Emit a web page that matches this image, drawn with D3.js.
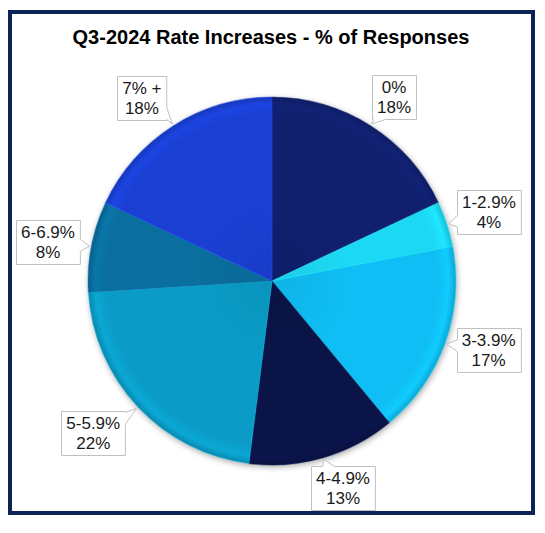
<!DOCTYPE html>
<html>
<head>
<meta charset="utf-8">
<script src="https://cdn.jsdelivr.net/npm/d3@7"></script>
<style>
  body { margin: 0; background: #fff; }
  text { font-family: "Liberation Sans", Arial, sans-serif; }
</style>
</head>
<body>
<div id="chart"></div>
<script>
// chart data
var categories = ["0%", "1-2.9%", "3-3.9%", "4-4.9%", "5-5.9%", "6-6.9%", "7% +"];
var shares = [18, 4, 17, 13, 22, 8, 18];
var sliceColors = ["#10206e", "#1cd8f4", "#0fbef4", "#0a1447", "#0a9cc6", "#0a6e9e", "#1a3fd2"];
var chartTitle = "Q3-2024 Rate Increases - % of Responses";

// small nudges of the callout boxes off the radial placement
var labelNudge = [[1, 7], [2, 1], [4, -8], [8, -10], [-14, -3], [-2, 3], [-9, 8]];

var svgWidth = 545;
var svgHeight = 533;
var cx = 272, cy = 281, radius = 184;
var labelRadius = 226;

var svg = d3.select("#chart")
  .append("svg")
  .attr("width", svgWidth)
  .attr("height", svgHeight);

var defs = svg.append("defs");

// soft shadow behind the pie (drawn as a separate blurred disc)
var shadow = defs.append("filter")
  .attr("id", "pieShadow")
  .attr("x", "-20%").attr("y", "-20%")
  .attr("width", "140%").attr("height", "140%");
shadow.append("feGaussianBlur").attr("stdDeviation", 3);

// one radial gradient per slice (rim highlight + darker edge); centred on the pie group origin
sliceColors.forEach(function(c, i) {
  var base = d3.color(c);
  var g = defs.append("radialGradient")
    .attr("id", "grad" + i)
    .attr("gradientUnits", "userSpaceOnUse")
    .attr("cx", 0).attr("cy", 0).attr("r", radius);
  g.append("stop").attr("offset", "0%").attr("stop-color", base.darker(0.15));
  g.append("stop").attr("offset", "40%").attr("stop-color", base);
  g.append("stop").attr("offset", "90%").attr("stop-color", base);
  g.append("stop").attr("offset", "96%").attr("stop-color", base.brighter(0.2));
  g.append("stop").attr("offset", "100%").attr("stop-color", base.darker(0.4));
});

// frame
svg.append("rect")
  .attr("x", 10).attr("y", 12)
  .attr("width", 523).attr("height", 501)
  .attr("fill", "#fff")
  .attr("stroke", "#0c2455")
  .attr("stroke-width", 4);

// title
svg.append("text")
  .attr("x", 271)
  .attr("y", 43.5)
  .attr("text-anchor", "middle")
  .attr("font-size", "20px")
  .attr("font-weight", "bold")
  .attr("fill", "#000")
  .text(chartTitle);

var pie = d3.pie().sort(null).value(function(d) { return d; });
var arcs = pie(shares);
var arc = d3.arc().innerRadius(0).outerRadius(radius);

var pieGroup = svg.append("g")
  .attr("transform", "translate(" + cx + "," + cy + ")");

pieGroup.append("circle")
  .attr("cx", 1).attr("cy", 2)
  .attr("r", radius)
  .attr("fill", "#000")
  .attr("opacity", 0.35)
  .attr("filter", "url(#pieShadow)");

pieGroup.selectAll("path.slice")
  .data(arcs)
  .enter()
  .append("path")
  .attr("class", "slice")
  .attr("d", arc)
  .attr("fill", function(d, i) { return "url(#grad" + i + ")"; })
  .attr("stroke", function(d, i) { return d3.color(sliceColors[i]).brighter(0.6); })
  .attr("stroke-opacity", 0.4)
  .attr("stroke-width", 1.2)
  .attr("stroke-linejoin", "round");

// callout labels
var labelGroup = svg.append("g");

function calloutPath(x0, y0, x1, y1, tip) {
  var bx = (x0 + x1) / 2, by = (y0 + y1) / 2;
  var hw = (x1 - x0) / 2, hh = (y1 - y0) / 2;
  var dx = tip[0] - bx, dy = tip[1] - by;
  var side, q;
  if (Math.abs(dx) * hh > Math.abs(dy) * hw) {
    side = dx > 0 ? "right" : "left";
    q = by + dy * hw / Math.abs(dx);
    q = Math.max(y0 + 7, Math.min(y1 - 7, q));
  } else {
    side = dy > 0 ? "bottom" : "top";
    q = bx + dx * hh / Math.abs(dy);
    q = Math.max(x0 + 7, Math.min(x1 - 7, q));
  }
  var w = 6;
  var p = d3.path();
  p.moveTo(x0, y0);
  if (side === "top") { p.lineTo(q - w, y0); p.lineTo(tip[0], tip[1]); p.lineTo(q + w, y0); }
  p.lineTo(x1, y0);
  if (side === "right") { p.lineTo(x1, q - w); p.lineTo(tip[0], tip[1]); p.lineTo(x1, q + w); }
  p.lineTo(x1, y1);
  if (side === "bottom") { p.lineTo(q + w, y1); p.lineTo(tip[0], tip[1]); p.lineTo(q - w, y1); }
  p.lineTo(x0, y1);
  if (side === "left") { p.lineTo(x0, q + w); p.lineTo(tip[0], tip[1]); p.lineTo(x0, q - w); }
  p.closePath();
  return p.toString();
}

arcs.forEach(function(d, i) {
  var mid = (d.startAngle + d.endAngle) / 2;
  var lx = cx + labelRadius * Math.sin(mid) + labelNudge[i][0];
  var ly = cy - labelRadius * Math.cos(mid) + labelNudge[i][1];
  var tip = [cx + (radius + 2) * Math.sin(mid), cy - (radius + 2) * Math.cos(mid)];

  var g = labelGroup.append("g");
  var t1 = g.append("text")
    .attr("x", lx).attr("y", ly - 4)
    .attr("text-anchor", "middle")
    .attr("font-size", "17px")
    .attr("fill", "#1a1a1a")
    .text(categories[i]);
  var t2 = g.append("text")
    .attr("x", lx).attr("y", ly + 16)
    .attr("text-anchor", "middle")
    .attr("font-size", "17px")
    .attr("fill", "#1a1a1a")
    .text(d.data + "%");

  var tw = Math.max(t1.node().getComputedTextLength(), t2.node().getComputedTextLength());
  var bw = tw + 10, bh = 44;
  var x0 = Math.round(lx - bw / 2) + 0.5, y0 = Math.round(ly - bh / 2) + 0.5;
  g.insert("path", "text")
    .attr("d", calloutPath(x0, y0, x0 + bw, y0 + bh, tip))
    .attr("fill", "#fff")
    .attr("stroke", "#c0c0c0")
    .attr("stroke-width", 1);
});
</script>
</body>
</html>
